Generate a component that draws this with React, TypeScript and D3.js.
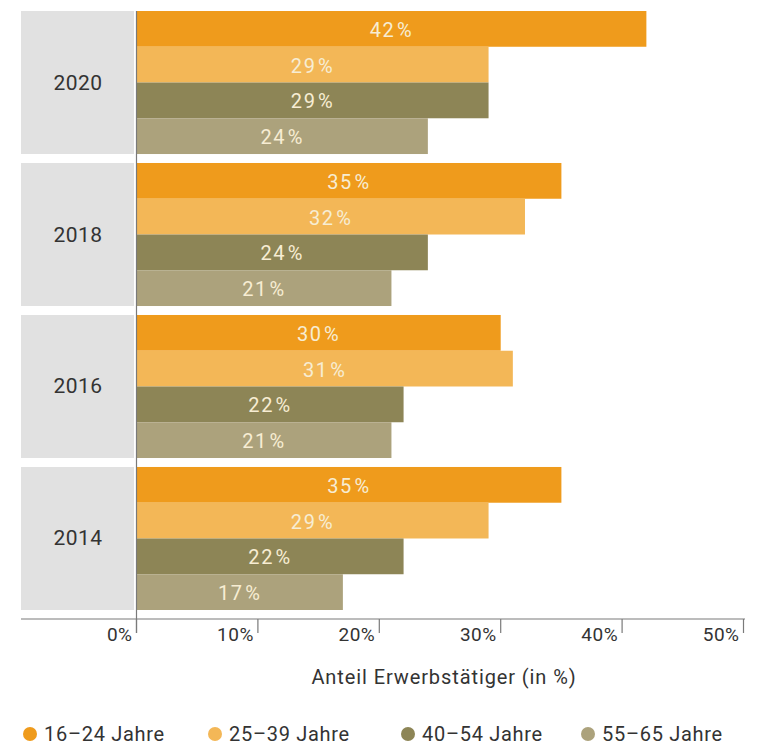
import React from "react";
import * as d3 from "d3";

const years = ["2020", "2018", "2016", "2014"];
const seriesNames = ["16–24 Jahre", "25–39 Jahre", "40–54 Jahre", "55–65 Jahre"];
const s1624 = [42, 35, 30, 35];
const s2539 = [29, 32, 31, 29];
const s4054 = [29, 24, 22, 22];
const s5565 = [24, 21, 21, 17];
const seriesColors = ["#EF9B1C", "#F3B757", "#8D8556", "#ACA27C"];
const xTicks = [0, 10, 20, 30, 40, 50];
const axisTitle = "Anteil Erwerbstätiger (in %)";

const seriesValues = [s1624, s2539, s4054, s5565];

export default function App() {
  const W = 757;
  const H = 747;
  const x0 = 136.5;
  const x = d3.scaleLinear().domain([0, 50]).range([x0, x0 + 50 * 12.14]);
  const y = d3.scaleBand<string>().domain(years).range([11, 610]).paddingInner(0.059).paddingOuter(0);
  const ySub = d3.scaleBand<number>().domain([0, 1, 2, 3]).range([0, y.bandwidth()]).padding(0);
  const axisY = 619;
  const font = "Roboto, 'DejaVu Sans', sans-serif";
  const legendX = [30, 215, 408, 588];

  return (
    <div style={{ position: "absolute", left: 0, top: 0 }}>
      <svg width={W} height={H} style={{ display: "block", background: "#fff" }} fontFamily={font}>
        {years.map((yr, gi) => {
          const gy = y(yr)!;
          return (
            <g key={yr}>
              <rect x={21} y={gy} width={113} height={y.bandwidth()} fill="#E1E1E1" />
              <text x={78} y={gy + y.bandwidth() / 2} dominantBaseline="central" textAnchor="middle" fontSize={21} fill="#333" letterSpacing={0.5}>
                {yr}
              </text>
              {seriesValues.map((vals, si) => {
                const v = vals[gi];
                const by = gy + ySub(si)!;
                const bh = ySub.bandwidth();
                return (
                  <g key={si}>
                    <rect x={x(0)} y={by} width={x(v) - x(0)} height={bh} fill={seriesColors[si]} />
                    <text x={(x(0) + x(v)) / 2} y={by + bh / 2 + 1} dominantBaseline="central" textAnchor="middle" fontSize={20} fill="#F7EDD3" letterSpacing={1.6}>
                      {String(v)}
                      <tspan dx={1.5}>%</tspan>
                    </text>
                  </g>
                );
              })}
            </g>
          );
        })}
        <line x1={x0} x2={x0} y1={11} y2={633} stroke="#7a7a7a" strokeWidth={1.2} />
        <line x1={21} x2={745} y1={axisY} y2={axisY} stroke="#7a7a7a" strokeWidth={1.2} />
        {xTicks.map((t) => (
          <g key={t}>
            <line x1={x(t)} x2={x(t)} y1={axisY} y2={633} stroke="#7a7a7a" strokeWidth={1.2} />
            <text x={x(t) - 4} y={641} textAnchor="end" fontSize={19} fill="#333" letterSpacing={0.5}>
              {t + "%"}
            </text>
          </g>
        ))}
        <text x={444} y={684} textAnchor="middle" fontSize={20} fill="#333" letterSpacing={0.9}>
          {axisTitle}
        </text>
        {seriesNames.map((n, i) => (
          <g key={n}>
            <circle cx={legendX[i]} cy={734} r={7} fill={seriesColors[i]} />
            <text x={legendX[i] + 14} y={741} fontSize={20} fill="#333" letterSpacing={0.7}>
              {n}
            </text>
          </g>
        ))}
      </svg>
    </div>
  );
}
